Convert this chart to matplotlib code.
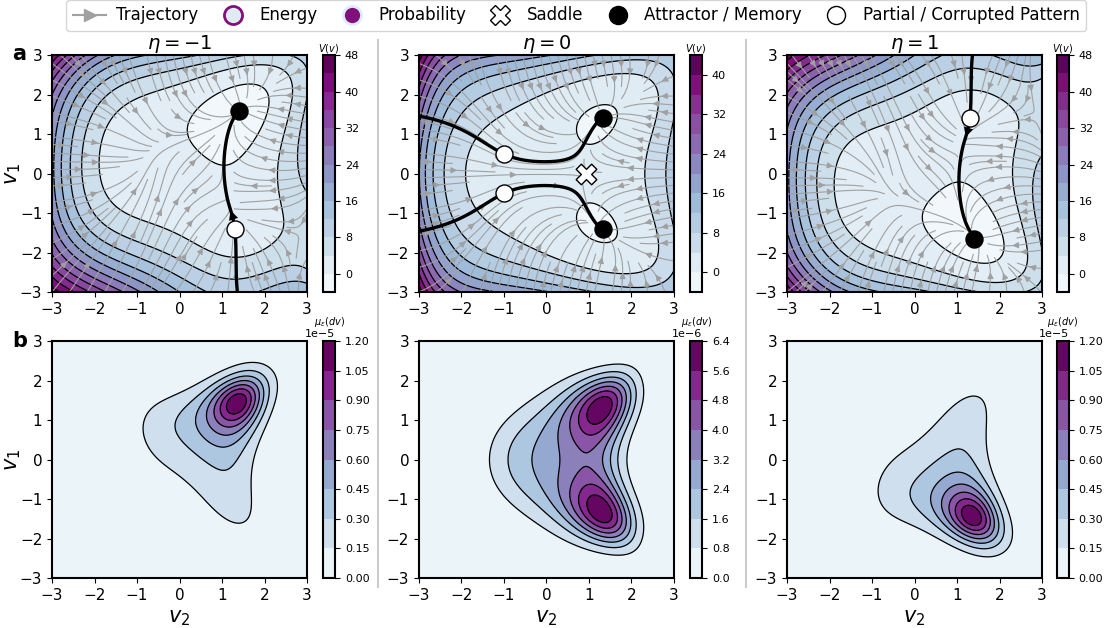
import numpy as np
import matplotlib
matplotlib.use("Agg")
import matplotlib.pyplot as plt
from matplotlib.lines import Line2D

# ---------------- values ----------------
titles = [r"$\eta = -1$", r"$\eta = 0$", r"$\eta = 1$"]
v_levels = [np.arange(-4, 49, 4), np.arange(-4, 45, 4), np.arange(-4, 49, 4)]
v_ticks = [np.arange(0, 49, 8), np.arange(0, 41, 8), np.arange(0, 49, 8)]
mu_levels = [np.linspace(0, 1.2e-5, 9), np.linspace(0, 6.4e-6, 9), np.linspace(0, 1.2e-5, 9)]
mu_peak = [1.16e-5, 6.3e-6, 1.16e-5]
mu_peak_at = [(1.41, 1.52), (1.30, 1.35), (1.41, -1.52)]
temperature = 1.3

attractors = [[(1.41, 1.58)], [(1.34, 1.40), (1.34, -1.40)], [(1.40, -1.65)]]
partials = [[(1.30, -1.40)], [(-1.0, 0.5), (-1.0, -0.5)], [(1.30, 1.40)]]
saddles = [[], [(0.93, 0.0)], []]
arrow_at = [0.45, 0.12, 0.45]

# eta = 0, upper half (v2, v1, V) -- mirrored by symmetry
eta0_energy = [
    (0.83, 0.65, 0), (1.63, 1.85, 0), (0.91, 1.46, 0), (1.55, 1.04, 0),
    (0.76, 0.98, 0), (1.18, 1.78, 0), (1.72, 1.45, 0), (1.25, 0.72, 0),
    (-1.96, 0.0, 4), (-1.82, 0.85, 4), (-1.45, 1.3, 4), (-0.9, 1.55, 4),
    (0.0, 1.9, 4), (1.0, 2.22, 4), (1.8, 2.42, 4), (2.4, 2.35, 4),
    (2.6, 1.8, 4), (2.6, 1.0, 4), (2.55, 0.0, 4),
    (-2.35, 0.0, 8), (-2.25, 0.9, 8), (-1.95, 1.6, 8), (-1.3, 2.05, 8),
    (0.0, 2.35, 8), (1.2, 2.62, 8), (2.2, 2.75, 8), (2.85, 2.55, 8),
    (2.88, 1.5, 8), (2.87, 0.0, 8),
    (-2.57, 0.0, 12), (-2.5, 0.9, 12), (-2.2, 1.75, 12), (-1.6, 2.3, 12),
    (-0.6, 2.6, 12), (0.6, 2.85, 12), (1.5, 2.97, 12),
    (-2.8, 0.0, 16), (-2.72, 0.9, 16), (-2.45, 1.85, 16), (-1.95, 2.45, 16),
    (-1.1, 2.8, 16), (-0.4, 2.98, 16),
    (-2.7, 1.85, 20), (-2.25, 2.55, 20), (-1.6, 2.95, 20),
    (-3.0, 3.0, 42.5), (3.0, 3.0, 11), (3.0, 0.0, 9.5), (0.0, 3.0, 15.5),
    (-3.0, 0.0, 20),
]
# eta = 0 probability contours (v2, v1, mu in 1e-6)
eta0_prob = [
    (-1.35, 0.0, 0.8), (-1.02, 0.81, 0.8), (-0.55, 1.32, 0.8), (0.08, 1.86, 0.8),
    (0.86, 2.24, 0.8), (1.69, 2.41, 0.8), (2.12, 2.28, 0.8), (2.26, 1.91, 0.8),
    (2.24, 1.32, 0.8), (2.04, 0.81, 0.8), (1.90, 0.39, 0.8), (1.89, 0.0, 0.8),
    (-0.86, 0.0, 1.6), (-0.59, 0.73, 1.6), (-0.08, 1.40, 1.6), (0.71, 1.95, 1.6),
    (1.69, 2.20, 1.6), (2.08, 1.74, 1.6), (2.04, 1.23, 1.6), (1.77, 0.56, 1.6),
    (1.65, 0.0, 1.6),
    (-0.23, 0.0, 2.4), (-0.08, 0.64, 2.4), (0.39, 1.32, 2.4), (1.02, 1.86, 2.4),
    (1.65, 2.07, 2.4), (1.95, 1.57, 2.4), (1.85, 1.06, 2.4), (1.53, 0.39, 2.4),
    (1.43, 0.0, 2.4),
    (0.35, 0.0, 3.2), (0.31, 0.39, 3.2), (0.55, 1.06, 3.2), (0.94, 1.65, 3.2),
    (1.49, 1.95, 3.2), (1.81, 1.48, 3.2), (1.65, 0.90, 3.2), (1.38, 0.39, 3.2),
    (1.34, 0.0, 3.2),
    (0.94, 0.35, 4.0), (0.55, 0.90, 4.0), (0.71, 1.48, 4.0), (1.38, 1.82, 4.0),
    (1.77, 1.44, 4.0), (1.65, 0.85, 4.0), (1.34, 0.43, 4.0),
    (0.80, 0.81, 4.8), (0.94, 1.40, 4.8), (1.34, 1.65, 4.8), (1.69, 1.32, 4.8),
    (1.45, 0.81, 4.8), (1.10, 0.52, 4.8),
    (1.08, 1.06, 5.6), (1.26, 1.48, 5.6), (1.56, 1.61, 5.6), (1.49, 1.23, 5.6),
    (1.26, 0.98, 5.6),
]
# places where the density is below the first level (v2, v1, -log ratio)
eta0_empty = [
    (-1.8, 0.0, 3), (2.15, 0.0, 3), (1.8, 2.75, 3), (2.55, 1.6, 3),
    (-1.5, 0.9, 3), (-0.8, 1.7, 3),
    (-2.4, 0.0, 5), (-2.0, 1.1, 5), (-1.3, 2.0, 5), (-0.3, 2.6, 5),
    (1.0, 2.9, 5), (2.2, 2.9, 5), (2.8, 2.2, 5), (2.9, 1.2, 5), (2.6, 0.0, 5),
    (-3, 0, 6), (-3, 1.5, 6), (-3, 3, 6), (-1.5, 3, 6), (0, 3, 6),
    (1.5, 3, 6), (3, 3, 6), (3, 1.5, 6), (3, 0, 6),
]
# direction of the drawn trajectory: (v2, v1, d_v2, d_v1, slope), + = downhill
eta0_path = [
    (-0.5, 0.35, 1.0, -0.12, 0.8), (0.0, 0.27, 1.0, -0.02, 0.5),
    (0.55, 0.30, 1.0, 0.15, 0.3), (0.86, 0.60, 0.5, 0.8, 0.4),
    (1.18, 1.19, 0.3, 0.6, 0.6), (-2.0, 0.85, 1.0, -0.38, 4.0),
]

# eta = -1 (v2, v1, V); eta = +1 is its mirror image in v1
etam1_energy = [
    (0.08, 1.10, 0), (0.48, 1.78, 0), (1.11, 2.20, 0), (1.73, 2.33, 0),
    (2.13, 1.95, 0), (2.08, 1.50, 0), (1.75, 1.00, 0), (1.30, 0.50, 0),
    (0.91, 0.22, 0), (0.40, 0.60, 0),
    (-1.94, 0.0, 4), (-1.85, 1.0, 4), (-1.4, 1.6, 4), (-0.6, 2.1, 4),
    (0.4, 2.45, 4), (1.3, 2.65, 4), (2.0, 2.65, 4), (2.5, 2.35, 4),
    (2.6, 1.3, 4), (2.5, 0.2, 4), (2.45, -0.8, 4), (2.55, -1.6, 4),
    (2.25, -2.0, 4), (1.5, -2.1, 4), (0.6, -1.95, 4), (-0.3, -1.6, 4),
    (-1.2, -1.15, 4), (-1.75, -0.65, 4),
    (-2.3, 0.2, 8), (-2.2, 1.2, 8), (-1.8, 1.9, 8), (-0.9, 2.4, 8),
    (0.4, 2.7, 8), (1.6, 2.92, 8), (2.85, 2.6, 8), (2.85, 0.0, 8),
    (2.85, -1.8, 8), (2.3, -2.35, 8), (1.2, -2.4, 8), (0.0, -2.15, 8),
    (-1.3, -1.65, 8), (-2.1, -0.9, 8),
    (-2.55, 0.2, 12), (-2.45, 1.3, 12), (-2.0, 2.15, 12), (-1.0, 2.7, 12),
    (0.5, 2.98, 12), (2.2, -2.7, 12), (0.8, -2.65, 12), (-0.5, -2.4, 12),
    (-1.6, -1.9, 12), (-2.35, -1.0, 12),
    (-2.75, 0.2, 16), (-2.6, 1.4, 16), (-2.2, 2.35, 16), (-1.3, 2.85, 16),
    (1.5, -2.95, 16), (0.0, -2.75, 16), (-1.2, -2.35, 16),
    (-2.0, -1.85, 16), (-2.6, -1.0, 16),
    (-3.0, 3.0, 44), (-3.0, -3.0, 46), (3.0, 3.0, 9), (3.0, -3.0, 14),
    (-3.0, 0.0, 20), (3.0, 0.0, 9.5), (0.0, 3.0, 12), (0.0, -3.0, 18),
]
# eta = -1 probability contours (v2, v1, mu in 1e-5)
etam1_prob = [
    (-0.85, 0.52, 0.15), (-0.54, 0.98, 0.15), (0.17, 1.65, 0.15), (0.95, 2.16, 0.15),
    (1.73, 2.49, 0.15), (2.16, 2.33, 0.15), (2.28, 1.91, 0.15), (2.13, 1.23, 0.15),
    (1.73, 0.47, 0.15), (1.58, 0.0, 0.15), (1.58, -0.62, 0.15), (1.67, -1.38, 0.15),
    (1.58, -1.71, 0.15), (1.38, -1.71, 0.15), (0.87, -1.21, 0.15), (0.17, -0.54, 0.15),
    (-0.46, -0.11, 0.15), (-0.81, 0.22, 0.15),
    (-0.10, 0.98, 0.30), (0.33, 1.57, 0.30), (0.87, 2.03, 0.30), (1.42, 2.24, 0.30),
    (1.97, 2.07, 0.30), (2.05, 1.61, 0.30), (1.89, 0.98, 0.30), (1.58, 0.22, 0.30),
    (0.87, 0.01, 0.30), (0.17, 0.39, 0.30), (-0.07, 0.73, 0.30),
    (0.33, 0.98, 0.45), (0.64, 1.57, 0.45), (1.27, 1.95, 0.45), (1.81, 1.86, 0.45),
    (1.93, 1.32, 0.45), (1.58, 0.64, 0.45), (1.11, 0.52, 0.45), (0.48, 0.64, 0.45),
    (0.64, 1.06, 0.60), (0.95, 1.61, 0.60), (1.50, 1.82, 0.60), (1.85, 1.48, 0.60),
    (1.66, 0.90, 0.60), (1.19, 0.69, 0.60),
    (0.80, 1.23, 0.75), (1.27, 1.70, 0.75), (1.73, 1.57, 0.75), (1.62, 1.06, 0.75),
    (1.11, 0.90, 0.75),
    (1.00, 1.32, 0.90), (1.38, 1.65, 0.90), (1.69, 1.40, 0.90), (1.42, 1.06, 0.90),
    (1.19, 1.48, 1.05), (1.54, 1.61, 1.05), (1.58, 1.32, 1.05), (1.27, 1.23, 1.05),
    (1.40, -1.40, 0.20), (1.20, -0.60, 0.22), (0.60, -0.20, 0.20),
]
etam1_empty = [
    (2.15, -0.1, 3), (0.3, -1.35, 3), (-1.3, 0.4, 3), (1.0, 2.6, 3),
    (2.05, -1.2, 3), (1.4, -2.1, 3),
    (-1.8, 0.3, 5), (-1.4, 1.3, 5), (-0.6, 2.2, 5), (0.5, 2.8, 5),
    (1.7, 3.0, 5), (2.7, 2.6, 5), (2.9, 1.5, 5), (2.6, 0.3, 5),
    (2.3, -1.0, 5), (2.4, -2.0, 5), (1.6, -2.4, 5), (0.8, -2.2, 5),
    (0.0, -1.6, 5), (-0.8, -1.0, 5), (-1.5, -0.5, 5),
    (-3, -3, 6), (-3, 0, 6), (-3, 3, 6), (0, 3, 6), (3, 3, 6), (3, 0, 6),
    (3, -3, 6), (0, -3, 6), (-1.5, -2.5, 6), (1.5, -3, 6), (-3, -1.5, 6),
    (-3, 1.5, 6), (1.5, 3, 6), (3, 1.5, 6), (3, -1.5, 6),
    (-2.2, -3, 6), (-0.8, -3, 6), (2.2, -3, 6), (-3, -2.2, 6), (-3, -0.8, 6),
    (-3, 0.8, 6), (-3, 2.2, 6), (-2.2, 3, 6), (-0.8, 3, 6), (2.2, 3, 6),
    (3, 2.2, 6), (3, 0.8, 6), (3, -0.8, 6), (3, -2.2, 6),
    (-2.0, -1.8, 6), (-1.8, 1.8, 6), (-2.2, 0.0, 6),
]
etam1_path = [
    (1.26, -1.20, -0.08, 0.4, 0.5), (1.15, -0.75, -0.14, 0.5, 0.5),
    (1.03, -0.25, -0.10, 0.5, 0.5), (0.97, 0.25, 0.0, 0.5, 0.6),
    (1.00, 0.75, 0.08, 0.5, 0.7), (1.12, 1.18, 0.15, 0.35, 0.8),
    (1.15, -1.85, 0.35, 1.0, 3.0), (0.90, -2.60, 0.30, 1.0, 6.0),
]
well_width = 0.55


# ---------------- smooth surfaces through the readings ----------------
def basis(x, y, even, wells, deg):
    s = np.asarray(x, float) / 3.0
    t = np.asarray(y, float) / 3.0
    cols = [s**i * t**j for i in range(deg + 1) for j in range(deg + 1 - i)
            if not (even and j % 2)]
    for group in wells:
        g = 0.0
        for cx, cy in group:
            g = g + np.exp(-((np.asarray(x) - cx)**2 + (np.asarray(y) - cy)**2)
                           / (2 * well_width**2))
        cols.append(g * np.ones_like(s))
    return np.stack(cols, axis=-1)


def lsq_surface(vals, rel, anchor, grads, even, wells, deg, ridge):
    """vals: (x, y, target, weight); rel: same but relative to anchor;
    grads: (x, y, gx, gy, weight)."""
    B = lambda x, y: basis(x, y, even, wells, deg)
    h = 1e-3
    v = np.array(vals, float)
    rows = [B(v[:, 0], v[:, 1]) * v[:, 3:4]]
    rhs = [v[:, 2] * v[:, 3]]
    if len(rel):
        r = np.array(rel, float)
        rows.append((B(r[:, 0], r[:, 1]) - B(*anchor)) * r[:, 3:4])
        rhs.append(r[:, 2] * r[:, 3])
    for px, py, tx, ty, w in grads:
        gx = (B(px + h, py) - B(px - h, py)) / (2 * h)
        gy = (B(px, py + h) - B(px, py - h)) / (2 * h)
        rows += [w * gx[None], w * gy[None]]
        rhs += [np.array([w * tx]), np.array([w * ty])]
    n = rows[0].shape[1]
    reg = ridge * np.eye(n)
    reg[0, 0] = 0
    rows.append(reg)
    rhs.append(np.zeros(n))
    coef = np.linalg.lstsq(np.vstack(rows), np.concatenate(rhs), rcond=None)[0]
    return lambda x, y: B(x, y) @ coef


def energy_fit(e_pts, p_pts, paths, peak, unit, crit, even, wells):
    vals = [(x, y, lv, 4.5 if lv == 0 else 1.0) for x, y, lv in e_pts]
    rel = [(x, y, temperature * np.log(peak / (m * unit)), 2.5) for x, y, m in p_pts]
    grads = [(x, y, 0.0, 0.0, 4.0) for x, y in crit]
    for x, y, dx, dy, m in paths:
        d = np.hypot(dx, dy)
        grads.append((x, y, -m * dx / d, -m * dy / d, 2.0))
    return lsq_surface(vals, rel, crit[0], grads, even, wells, 6, 0.02)


def density_fit(p_pts, empty, peak, unit, top, even, wells, deg, ridge):
    vals = [(x, y, np.log(peak / (m * unit)), 4.0) for x, y, m in p_pts]
    vals += [(x, y, u, 1.0) for x, y, u in empty]
    vals.append((top[0], top[1], 0.0, 5.0))
    grads = [(top[0], top[1], 0.0, 0.0, 4.0)]
    return lsq_surface(vals, [], None, grads, even, wells, deg, ridge)


V_m1 = energy_fit(etam1_energy, etam1_prob, etam1_path, mu_peak[0], 1e-5,
                  attractors[0], False, [[attractors[0][0]], [partials[0][0]]])
V_0 = energy_fit(eta0_energy, eta0_prob, eta0_path, mu_peak[1], 1e-6,
                 attractors[1][:1] + saddles[1], True, [attractors[1]])
V_funcs = [V_m1, V_0, lambda x, y: V_m1(x, -np.asarray(y))]

U_m1 = density_fit(etam1_prob, etam1_empty, mu_peak[0], 1e-5, mu_peak_at[0], False,
                   [[mu_peak_at[0]]], 6, 0.01)
U_0 = density_fit(eta0_prob, eta0_empty, mu_peak[1], 1e-6, mu_peak_at[1], True,
                  [[mu_peak_at[1], (mu_peak_at[1][0], -mu_peak_at[1][1])]], 8, 0.003)
U_funcs = [U_m1, U_0, lambda x, y: U_m1(x, -np.asarray(y))]


def grad(f, x, y, h=1e-4):
    return np.array([(f(x + h, y) - f(x - h, y)) / (2 * h),
                     (f(x, y + h) - f(x, y - h)) / (2 * h)])


def trajectory(f, start, targets, ds=0.01):
    back = [np.array(start, float)]
    p = back[0].copy()
    for _ in range(2000):
        g = grad(f, *p)
        p = p + ds * g / (np.hypot(*g) + 1e-12)
        if np.abs(p).max() > 3:
            break
        back.append(p.copy())
    fwd = [np.array(start, float)]
    p = fwd[0].copy()
    for _ in range(2000):
        g = grad(f, *p)
        p = p - ds * g / (np.hypot(*g) + 1e-12)
        fwd.append(p.copy())
        if min(np.hypot(p[0] - a[0], p[1] - a[1]) for a in targets) < 0.03:
            break
    return np.array(back[::-1]), np.array(fwd)


# ---------------- figure ----------------
fig = plt.figure(figsize=(11.04, 6.28), dpi=100)
cmap = plt.get_cmap("BuPu")
xs = np.linspace(-3, 3, 241)
XX, YY = np.meshgrid(xs, xs)

col_x = [0.0471, 0.3795, 0.7129]
cb_x = [0.2926, 0.6250, 0.9574]
ax_w, cb_w = 0.231, 0.0109
top_y, bot_y, ax_h = 0.535, 0.0796, 0.377

for k in range(3):
    f = V_funcs[k]
    V = f(XX, YY)
    lev = v_levels[k]
    Vp = np.clip(V, lev[0] + 1e-6, lev[-1] - 1e-6)

    # ---- energy landscape ----
    ax = fig.add_axes([col_x[k], top_y, ax_w, ax_h])
    cf = ax.contourf(XX, YY, Vp, levels=lev, cmap=cmap)
    ax.contour(XX, YY, Vp, levels=lev, colors="k", linewidths=0.9)
    dVy, dVx = np.gradient(V, xs, xs)
    ax.streamplot(xs, xs, -dVx, -dVy, color="#a0a0a0", linewidth=0.8,
                  density=1.0, arrowsize=0.9, zorder=2)
    for st in partials[k]:
        back, fwd = trajectory(f, st, attractors[k])
        path = np.vstack([back, fwd])
        ax.plot(path[:, 0], path[:, 1], color="k", lw=2.4, zorder=4,
                solid_capstyle="round")
        seg = np.cumsum(np.hypot(*np.diff(fwd, axis=0).T))
        i = min(np.searchsorted(seg, arrow_at[k]), len(fwd) - 4)
        ax.annotate("", xy=fwd[i + 3], xytext=fwd[i],
                    arrowprops=dict(arrowstyle="-|>", color="k", lw=0,
                                    mutation_scale=17, shrinkA=0, shrinkB=0),
                    zorder=5)
    for a in attractors[k]:
        ax.scatter(*a, s=150, color="k", zorder=6)
    for pp in partials[k]:
        ax.scatter(*pp, s=150, facecolor="white", edgecolor="k", lw=1, zorder=6)
    for sd in saddles[k]:
        ax.scatter(*sd, s=220, marker="X", facecolor="white", edgecolor="k",
                   lw=1, zorder=6)
    ax.set_xlim(-3, 3)
    ax.set_ylim(-3, 3)
    ax.set_xticks(range(-3, 4))
    ax.set_yticks(range(-3, 4))
    ax.tick_params(labelsize=11)
    ax.set_title(titles[k], fontsize=14, pad=3)
    if k == 0:
        ax.set_ylabel(r"$v_1$", fontsize=15)
        ax.yaxis.set_label_coords(-0.115, 0.5)
    for sp in ax.spines.values():
        sp.set_linewidth(1.5)
    cax = fig.add_axes([cb_x[k], top_y, cb_w, ax_h])
    cb = fig.colorbar(cf, cax=cax, ticks=v_ticks[k])
    cb.ax.tick_params(labelsize=8)
    cb.outline.set_linewidth(1.5)
    cax.set_title(r"$V(v)$", fontsize=7, pad=3)

    # ---- stationary probability ----
    U = U_funcs[k](XX, YY)
    top_u = U_funcs[k](*mu_peak_at[k])
    mu = np.clip(mu_peak[k] * np.exp(-(U - top_u)), 0, mu_levels[k][-1] * 0.999)
    ax2 = fig.add_axes([col_x[k], bot_y, ax_w, ax_h])
    cf2 = ax2.contourf(XX, YY, mu, levels=mu_levels[k], cmap=cmap)
    ax2.contour(XX, YY, mu, levels=mu_levels[k][1:], colors="k", linewidths=0.9)
    ax2.set_xlim(-3, 3)
    ax2.set_ylim(-3, 3)
    ax2.set_xticks(range(-3, 4))
    ax2.set_yticks(range(-3, 4))
    ax2.tick_params(labelsize=11)
    ax2.set_xlabel(r"$v_2$", fontsize=15)
    if k == 0:
        ax2.set_ylabel(r"$v_1$", fontsize=15)
        ax2.yaxis.set_label_coords(-0.115, 0.5)
    for sp in ax2.spines.values():
        sp.set_linewidth(1.5)
    cax2 = fig.add_axes([cb_x[k], bot_y, cb_w, ax_h])
    cb2 = fig.colorbar(cf2, cax=cax2, ticks=mu_levels[k])
    cb2.ax.tick_params(labelsize=8)
    cb2.outline.set_linewidth(1.5)
    cb2.ax.yaxis.get_offset_text().set_fontsize(8)
    cax2.set_title(r"$\mu_\epsilon(dv)$", fontsize=7, pad=12)

for xline in (0.3424, 0.6757):
    fig.add_artist(Line2D([xline, xline], [0.065, 0.936], color="#cccccc",
                          lw=1.5, transform=fig.transFigure))

fig.text(0.011, 0.905, "a", fontsize=15, fontweight="bold")
fig.text(0.011, 0.447, "b", fontsize=15, fontweight="bold")

handles = [
    Line2D([], [], color="#a0a0a0", lw=1.5, marker=">", markersize=9, label="Trajectory"),
    Line2D([], [], ls="none", marker="o", markersize=13, markerfacecolor="#e0ecf4",
           markeredgecolor="#810f7c", markeredgewidth=2, label="Energy"),
    Line2D([], [], ls="none", marker="o", markersize=13, markerfacecolor="#810f7c",
           markeredgecolor="#e0ecf4", markeredgewidth=2, label="Probability"),
    Line2D([], [], ls="none", marker="X", markersize=14, markerfacecolor="white",
           markeredgecolor="k", markeredgewidth=1, label="Saddle"),
    Line2D([], [], ls="none", marker="o", markersize=13, color="k",
           label="Attractor / Memory"),
    Line2D([], [], ls="none", marker="o", markersize=13, markerfacecolor="white",
           markeredgecolor="k", label="Partial / Corrupted Pattern"),
]
fig.legend(handles=handles, loc="upper center", bbox_to_anchor=(0.522, 1.003),
           ncol=6, fontsize=12, frameon=True, handletextpad=0.6,
           columnspacing=1.05, borderaxespad=0.1)

fig.savefig("out.png", dpi=100)
